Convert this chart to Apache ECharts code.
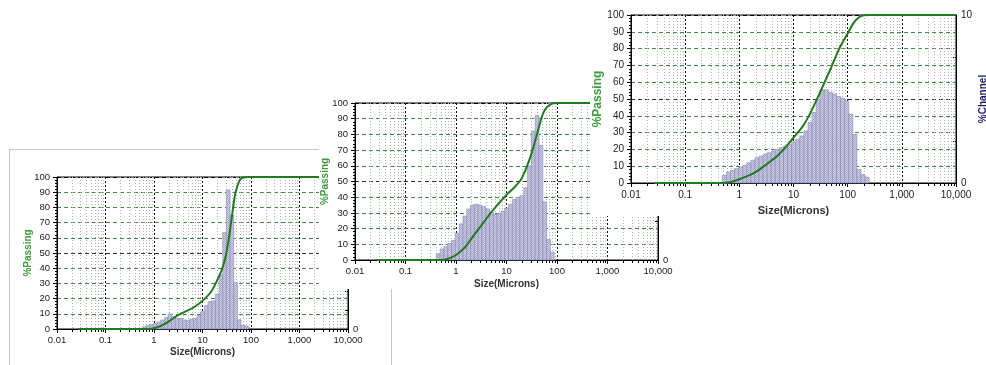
<!DOCTYPE html>
<html>
<head>
<meta charset="utf-8">
<script src="https://cdn.jsdelivr.net/npm/echarts@6/dist/echarts.min.js"></script>
<style>
  body { margin: 0; background: #fff; width: 986px; height: 365px; overflow: hidden; position: relative; }
  .box { position: absolute; }
  #frame1 { left: 9px; top: 149px; width: 383px; height: 240px; border: 1px solid #c8c8c8; box-sizing: border-box; }
  #chart1 { left: 0; top: 140px; width: 400px; height: 225px; }
  #chart2 { left: 319px; top: 90px; width: 360px; height: 199px; background: #fff; }
  #chart3 { left: 590px; top: 0; width: 396px; height: 216px; background: #fff; }
</style>
</head>
<body>
<div id="frame1" class="box"></div>
<div id="chart1" class="box"></div>
<div id="chart2" class="box"></div>
<div id="chart3" class="box"></div>
<script>
// channel edges (microns), 2^(1/4) progression
var channelEdges = [0.409, 0.486, 0.578, 0.688, 0.818, 0.972, 1.156, 1.375, 1.635, 1.945,
  2.312, 2.75, 3.27, 3.89, 4.62, 5.5, 6.54, 7.78, 9.25, 11, 13.08, 15.56, 18.5, 22,
  26.16, 31.11, 37, 44, 52.33, 62.23, 74, 88, 104.7, 124.5, 148, 176, 209.3, 248.9];
var xTickLabels = ["0.01", "0.1", "1", "10", "100", "1,000", "10,000"];
var decades = [0.01, 0.1, 1, 10, 100, 1000];
var minorSteps = [2, 3, 4, 5, 6, 7, 8, 9];

// chart 1 (bottom left)
var start1 = 0.578;
var chan1 = [0.3, 0.48, 0.6, 0.74, 0.92, 1.18, 1.5, 1.98, 1.62, 1.4, 1.4, 1.2, 1.14, 1.28,
  1.4, 1.76, 2.28, 3.08, 3.6, 3.7, 4.6, 7.12, 12.7, 18.3, 15, 6.1, 1.2, 0.5, 0.4];
var pass1 = [[0.027, 0], [0.8, 0], [1, 0.5], [1.5, 2.6], [2, 4.8], [3, 8.8], [4, 10.8],
  [5, 12.2], [7, 14.8], [10, 18.5], [15, 24.5], [20, 32], [25, 39], [30, 47.5], [35, 60],
  [40, 73], [45, 85], [50, 92], [60, 98.5], [70, 99.7], [90, 100], [10000, 100]];

// chart 2 (middle)
var start2 = 0.409;
var chan2 = [0.4, 0.7, 0.85, 1.05, 1.25, 1.7, 2.3, 2.8, 3.25, 3.5, 3.55, 3.5, 3.4, 3.25,
  3.05, 2.9, 2.95, 3.1, 3.3, 3.55, 3.85, 4.0, 4.1, 4.6, 6.0, 8.2, 9.2, 7.3, 3.7, 1.3, 0.5];
var pass2 = [[0.027, 0], [0.5, 0], [0.7, 0.8], [1, 3.2], [1.5, 8], [2, 13.5], [3, 21],
  [5, 30.5], [7, 36], [10, 41.5], [15, 47], [20, 52], [30, 66], [40, 80], [50, 91],
  [60, 96.5], [80, 99.6], [100, 100], [10000, 100]];

// chart 3 (top right)
var start3 = 0.486;
var chan3 = [0.45, 0.65, 0.75, 0.85, 0.95, 1.05, 1.2, 1.35, 1.5, 1.6, 1.7, 1.8, 1.9, 2.0,
  2.1, 2.2, 2.3, 2.45, 2.6, 2.8, 3.1, 3.6, 4.2, 5.0, 5.55, 5.55, 5.4, 5.3, 5.15, 5.05,
  4.9, 4.1, 2.9, 0.8, 0.5, 0.35];
var pass3 = [[0.027, 0], [0.5, 0], [0.7, 0.6], [1, 2.2], [1.5, 4.5], [2, 6.5], [3, 10.5],
  [5, 16], [7, 21], [10, 27], [15, 34], [20, 41], [30, 53], [40, 62], [50, 69], [70, 80],
  [100, 89], [130, 95.5], [160, 98.5], [200, 99.8], [250, 100], [10000, 100]];

var minorTicks = [];
decades.forEach(function (d) {
  minorSteps.forEach(function (s) { minorTicks.push([d * s, 0]); });
});

function makeBars(start, vals) {
  var i0 = channelEdges.indexOf(start);
  return vals.map(function (v, i) {
    return [channelEdges[i0 + i], channelEdges[i0 + i + 1], v];
  });
}

// hatch texture for the bars
var pat = document.createElement("canvas");
pat.width = 2; pat.height = 2;
var pctx = pat.getContext("2d");
pctx.fillStyle = "#cfcfe6"; pctx.fillRect(0, 0, 2, 2);
pctx.fillStyle = "#a9a9cf"; pctx.fillRect(0, 0, 1, 1); pctx.fillRect(1, 1, 1, 1);

var green = "#3d9b3d";
var gridGreen = "#3f8f3f";
var splitColors = ["#000", gridGreen, gridGreen, gridGreen, gridGreen, "#333",
  gridGreen, gridGreen, gridGreen, gridGreen, "#000"];

function buildOption(c) {
  return {
    animation: false,
    textStyle: { fontFamily: "Liberation Sans, Arial, sans-serif" },
    grid: { left: c.left, top: c.top, width: c.width, height: c.height,
      outerBoundsMode: "none", containLabel: false,
      show: true, borderColor: "#000", borderWidth: 1 },
    xAxis: {
      type: "log", logBase: 10, min: 0.01, max: 10000,
      name: "Size(Microns)", nameLocation: "middle", nameGap: c.xNameGap,
      nameMoveOverlap: false,
      nameTextStyle: { fontWeight: "bold", fontSize: c.nameSize, color: "#333" },
      axisLine: { lineStyle: { color: "#000" } },
      axisTick: { length: 4, lineStyle: { color: "#000" } },
      axisLabel: {
        margin: c.labelMargin, fontSize: c.labelSize, color: "#222",
        formatter: function (v) { return xTickLabels[Math.round(Math.log10(v)) + 2]; }
      },
      splitLine: { show: true, lineStyle: { color: "#111", type: [2, 2] } }
    },
    yAxis: [{
      type: "value", min: 0, max: 100, interval: 10,
      name: "%Passing", nameLocation: "middle", nameGap: c.yNameGap, nameRotate: 90,
      nameMoveOverlap: false,
      nameTextStyle: { color: green, fontWeight: "bold", fontSize: c.passSize },
      axisLine: { show: true, lineStyle: { color: "#000" } },
      axisTick: { show: true, length: 4, lineStyle: { color: "#000" } },
      minorTick: { show: true, splitNumber: 5, length: 2, lineStyle: { color: "#000" } },
      axisLabel: { margin: 7, fontSize: c.labelSize, color: "#222" },
      splitLine: { show: true, lineStyle: { color: splitColors, type: [4, 3] } }
    }, {
      type: "value", position: "right", min: 0, max: c.chanMax, interval: 2.5,
      name: "%Channel", nameLocation: "middle", nameGap: 22, nameRotate: 90,
      nameMoveOverlap: false,
      nameTextStyle: { color: "#1c1c6a", fontWeight: "bold", fontSize: 10 },
      axisLine: { show: true, lineStyle: { color: "#000" } },
      axisTick: { show: true, inside: true, length: 3, lineStyle: { color: "#000" } },
      axisLabel: {
        margin: 5, fontSize: c.labelSize, color: "#222",
        formatter: function (v) { return (v === 0 || v === c.chanMax) ? String(v) : ""; }
      },
      splitLine: { show: false }
    }],
    series: [{
      type: "custom", z: 1, silent: true,
      data: minorTicks,
      renderItem: function (params, api) {
        var x = api.value(0);
        var top = api.coord([x, 100]);
        var bot = api.coord([x, 0]);
        var px = Math.round(bot[0]) + 0.5;
        return { type: "group", children: [
          { type: "line", shape: { x1: px, y1: top[1], x2: px, y2: bot[1] },
            style: { stroke: "#b0b0b0", lineWidth: 1, lineDash: [1, 2] } },
          { type: "line", shape: { x1: px, y1: bot[1], x2: px, y2: bot[1] + 3 },
            style: { stroke: "#000", lineWidth: 1 } }
        ] };
      }
    }, {
      type: "custom", z: 2, yAxisIndex: 1, silent: true,
      data: makeBars(c.start, c.chan),
      renderItem: function (params, api) {
        var p0 = api.coord([api.value(0), 0]);
        var p1 = api.coord([api.value(1), api.value(2)]);
        return { type: "rect",
          shape: { x: p0[0], y: p1[1], width: p1[0] - p0[0], height: p0[1] - p1[1] },
          style: { fill: { image: pat, repeat: "repeat" }, stroke: "#8888b0", lineWidth: 0.6 } };
      }
    }, {
      type: "line", z: 3, data: c.pass, showSymbol: false, smooth: 0.3,
      lineStyle: { color: "#217a21", width: 2 }
    }]
  };
}

var configs = [
  { id: "chart1", left: 57, top: 37, width: 291, height: 152, xNameGap: 18, yNameGap: 24,
    labelMargin: 6, labelSize: 9.5, nameSize: 10, passSize: 10, chanMax: 20,
    start: start1, chan: chan1, pass: pass1 },
  { id: "chart2", left: 36, top: 13, width: 303, height: 157, xNameGap: 19, yNameGap: 25,
    labelMargin: 6, labelSize: 9.5, nameSize: 10, passSize: 10, chanMax: 10,
    start: start2, chan: chan2, pass: pass2 },
  { id: "chart3", left: 41, top: 15, width: 325, height: 168, xNameGap: 22, yNameGap: 27,
    labelMargin: 7, labelSize: 10, nameSize: 11, passSize: 12, chanMax: 10,
    start: start3, chan: chan3, pass: pass3 }
];

configs.forEach(function (c) {
  var chart = echarts.init(document.getElementById(c.id));
  chart.setOption(buildOption(c));
});
</script>
</body>
</html>
